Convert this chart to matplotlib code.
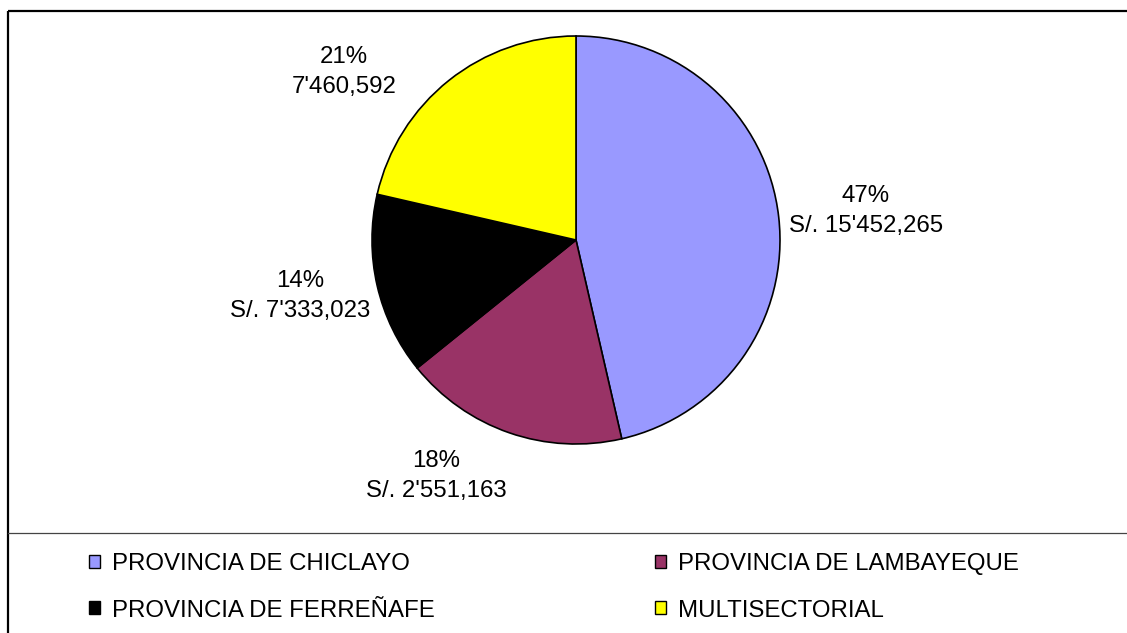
import matplotlib
matplotlib.use("Agg")
import matplotlib.pyplot as plt

categories = ["PROVINCIA DE CHICLAYO", "PROVINCIA DE LAMBAYEQUE",
              "PROVINCIA DE FERREÑAFE", "MULTISECTORIAL"]
shares = [46.4, 17.8, 14.4, 21.4]          # slice sizes
pct_labels = ["47%", "18%", "14%", "21%"]  # percentages as printed
amount_labels = ["S/. 15'452,265", "S/. 2'551,163", "S/. 7'333,023", "7'460,592"]
colors = ["#9999FF", "#993366", "#000000", "#FFFF00"]

plt.rcParams['font.family'] = ['Liberation Sans', 'DejaVu Sans']

W, H = 1127, 633
fig = plt.figure(figsize=(W / 100, H / 100), dpi=100)
ax = fig.add_axes([0, 0, 1, 1])

cx, cy, R = 576, H - 240, 204
wedges, _ = ax.pie(shares, colors=colors, startangle=90, counterclock=False,
                   center=(cx, cy), radius=R,
                   wedgeprops=dict(edgecolor="black", linewidth=1.2))
ax.set_xlim(0, W)
ax.set_ylim(0, H)
ax.set_aspect('equal')
ax.axis('off')

# data labels (pixel positions from top-left)
label_pos = [(866, 211), (436, 476), (300, 296), (344, 72)]
for p, a, (x, y) in zip(pct_labels, amount_labels, label_pos):
    ax.text(x, H - y, f"{p}\n{a}", ha="center", va="center", fontsize=17.3,
            linespacing=1.52, color="black")

# frame
ax.plot([8, 8], [0, H - 11], color="black", lw=1.6, solid_capstyle="butt")
ax.plot([8, W], [H - 11, H - 11], color="black", lw=1.6, solid_capstyle="butt")
ax.plot([8, W], [H - 533, H - 533], color="#444444", lw=0.9)

# legend in two columns
common = dict(frameon=False, fontsize=17.3, handlelength=0.45, handleheight=0.45,
              handletextpad=0.5, labelspacing=1.02, borderpad=0, borderaxespad=0)
leg1 = ax.legend([wedges[0], wedges[2]], [categories[0], categories[2]],
                 loc="upper left", bbox_to_anchor=(89, H - 553),
                 bbox_transform=ax.transData, **common)
ax.add_artist(leg1)
leg2 = ax.legend([wedges[1], wedges[3]], [categories[1], categories[3]],
                 loc="upper left", bbox_to_anchor=(655, H - 553),
                 bbox_transform=ax.transData, **common)
for leg in (leg1, leg2):
    for h in leg.legend_handles:
        h.set_linewidth(1.0)
        h.set_edgecolor("black")

fig.savefig("out.png", dpi=100, facecolor="white")
